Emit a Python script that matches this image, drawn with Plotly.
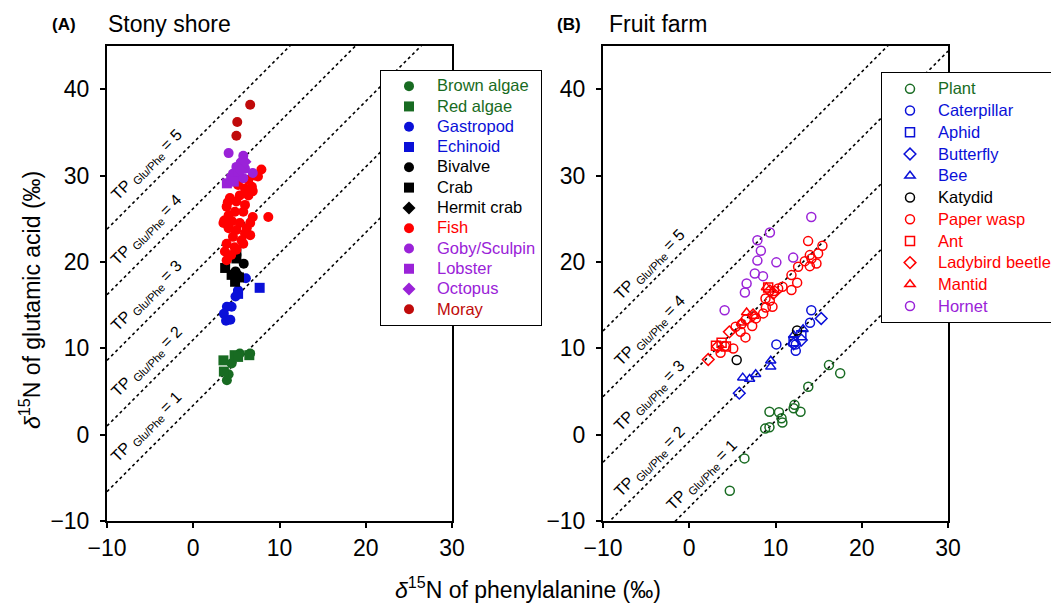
import plotly.graph_objects as go

# ---------------- data: panel A (Stony shore) ----------------
brown_algae_x = [3.9, 4.1, 4.45, 5.4, 6.6]
brown_algae_y = [6.3, 7.0, 8.25, 9.4, 9.4]
red_algae_x = [3.5, 3.55, 4.8, 5.2, 6.5]
red_algae_y = [8.6, 7.3, 9.2, 9.0, 9.2]
gastropod_x = [6.1, 5.2, 4.9, 4.45, 3.9, 3.55, 3.8, 4.3]
gastropod_y = [18.1, 16.7, 16.0, 14.8, 14.8, 14.0, 13.2, 13.3]
echinoid_x = [7.7, 5.2]
echinoid_y = [17.0, 16.3]
bivalve_x = [5.85, 4.9]
bivalve_y = [19.8, 18.9]
crab_x = [5.0, 5.0, 3.7, 4.45, 4.85, 5.3]
crab_y = [21.2, 20.4, 19.3, 18.5, 17.7, 18.2]
hermit_x = [5.1]
hermit_y = [18.6]
fish_x = [7.9, 7.15, 6.4, 6.8, 6.0, 6.9, 6.4, 5.4, 4.25, 3.87, 5.0, 6.0, 4.83, 5.8, 4.1,
          6.9, 8.7, 3.5, 4.5, 5.4, 6.6, 4.1, 5.0, 6.0, 4.6, 5.6, 6.6, 3.87, 4.8, 5.8,
          3.67, 4.4, 3.87, 5.0, 6.2, 4.0, 5.2, 3.6, 7.5]
fish_y = [30.7, 30.0, 29.5, 28.7, 28.5, 28.2, 27.7, 27.7, 27.4, 26.4, 27.0, 26.6, 25.8, 25.8, 25.4,
          25.2, 25.2, 24.5, 24.7, 24.5, 24.5, 23.9, 23.7, 23.3, 22.9, 22.5, 23.1, 22.1, 21.7, 22.1,
          21.2, 20.8, 20.2, 21.4, 23.9, 26.9, 28.9, 24.8, 29.9]
goby_x = [4.1, 5.8, 5.5, 5.0, 6.0, 6.9, 4.6, 5.3, 5.8]
goby_y = [32.6, 32.3, 31.5, 31.0, 30.8, 30.3, 30.2, 30.0, 29.7]
lobster_x = [3.9, 4.4, 5.2, 4.7]
lobster_y = [29.1, 29.6, 30.5, 29.3]
octopus_x = [5.5, 6.0]
octopus_y = [30.6, 31.6]
moray_x = [6.6, 5.1, 5.0]
moray_y = [38.2, 36.2, 34.6]

# ---------------- data: panel B (Fruit farm) ----------------
plant_x = [4.7, 6.4, 9.3, 10.4, 8.8, 9.3, 10.7, 10.8, 12.2, 12.1, 12.9, 13.8, 16.2, 17.5]
plant_y = [-6.5, -2.75, 2.65, 2.6, 0.7, 0.85, 1.9, 1.4, 3.45, 3.05, 2.65, 5.55, 8.05, 7.1]
caterpillar_x = [10.1, 12.35, 12.35, 14.0, 14.15]
caterpillar_y = [10.45, 10.45, 9.7, 12.95, 14.4]
aphid_x = [12.1, 13.0]
aphid_y = [10.8, 11.5]
butterfly_x = [5.8, 15.3, 13.0, 12.1]
butterfly_y = [4.8, 13.45, 10.95, 10.5]
bee_x = [6.2, 7.0, 7.7, 9.45, 9.45, 12.1, 13.2]
bee_y = [6.6, 6.45, 7.0, 8.55, 7.85, 11.5, 12.2]
katydid_x = [5.5, 12.5]
katydid_y = [8.65, 12.05]
wasp_x = [3.63, 4.13, 5.1, 5.37, 5.95, 6.06, 6.52, 6.56, 7.3, 7.72, 8.84, 9.34, 8.88, 9.65, 9.84,
          10.31, 10.81, 11.85, 12.51, 11.85, 12.62, 13.4, 13.78, 13.98, 14.17, 13.98, 14.75, 14.94, 15.44, 8.57]
wasp_y = [9.48, 10.25, 9.98, 12.49, 11.91, 12.8, 11.26, 13.34, 12.57, 13.46, 15.77, 15.5, 14.73, 14.8, 16.62,
          16.93, 17.12, 16.74, 17.6, 18.47, 19.44, 20.09, 22.41, 20.79, 20.4, 19.51, 19.82, 20.98, 21.87, 14.04]
ant_x = [3.1, 3.75, 4.25, 9.15]
ant_y = [10.3, 10.65, 10.2, 17.05]
ladybird_x = [2.2, 3.3, 4.65, 9.35, 7.4, 9.75]
ladybird_y = [8.7, 10.2, 11.9, 16.65, 13.85, 16.35]
mantid_x = [6.65, 8.95, 7.5, 6.05]
mantid_y = [14.15, 17.05, 13.75, 12.95]
hornet_x = [4.1, 6.45, 6.65, 7.6, 8.55, 7.9, 8.3, 7.9, 9.35, 10.1, 12.05, 14.15]
hornet_y = [14.4, 16.45, 17.5, 18.65, 18.35, 20.15, 21.3, 22.5, 23.4, 19.95, 20.5, 25.2]

# trophic position reference lines: y = x + beta + TDF*(TP-1)
tp_levels = [1, 2, 3, 4, 5]
beta_A = 3.4
beta_B = -8.4
tdf = 7.6
x_range = [-10, 30]
y_range = [-10, 45]
tick_vals = [-10, 0, 10, 20, 30, 40]

GREEN = "#186b22"
BLUE = "#0a10d8"
BLACK = "#000000"
RED = "#ff0000"
PURPLE = "#9a22d8"
DRED = "#c00a0a"

FONT = "Liberation Sans, Arial, sans-serif"

# page geometry (pixels)
W, H = 1051, 606
L, R, T, B = 70, 70, 46, 85
PW = W - L - R
PH = H - T - B


def px(xp):
    return (xp - L) / PW


def py(yp):
    return (H - B - yp) / PH


fig = go.Figure()


def tp_lines(beta, xa, ya):
    for tp in tp_levels:
        c = beta + tdf * (tp - 1)
        fig.add_trace(go.Scatter(x=x_range, y=[x_range[0] + c, x_range[1] + c], mode="lines",
                                 line=dict(color="black", dash="dot", width=1.6),
                                 showlegend=False, hoverinfo="skip", xaxis=xa, yaxis=ya))


tp_lines(beta_A, "x", "y")
tp_lines(beta_B, "x2", "y2")


def lab(text, color):
    return '<span style="color:%s;font-size:16.5px">%s</span>' % (color, text)


series_A = [
    ("Brown algae", brown_algae_x, brown_algae_y, "circle", GREEN),
    ("Red algae", red_algae_x, red_algae_y, "square", GREEN),
    ("Gastropod", gastropod_x, gastropod_y, "circle", BLUE),
    ("Echinoid", echinoid_x, echinoid_y, "square", BLUE),
    ("Bivalve", bivalve_x, bivalve_y, "circle", BLACK),
    ("Crab", crab_x, crab_y, "square", BLACK),
    ("Hermit crab", hermit_x, hermit_y, "diamond", BLACK),
    ("Fish", fish_x, fish_y, "circle", RED),
    ("Goby/Sculpin", goby_x, goby_y, "circle", PURPLE),
    ("Lobster", lobster_x, lobster_y, "square", PURPLE),
    ("Octopus", octopus_x, octopus_y, "diamond", PURPLE),
    ("Moray", moray_x, moray_y, "circle", DRED),
]
for name, xs, ys, sym, col in series_A:
    fig.add_trace(go.Scatter(x=xs, y=ys, mode="markers", name=lab(name, col),
                             marker=dict(symbol=sym, size=10, color=col, line=dict(width=0)),
                             xaxis="x", yaxis="y", legend="legend"))

series_B = [
    ("Plant", plant_x, plant_y, "circle-open", GREEN),
    ("Caterpillar", caterpillar_x, caterpillar_y, "circle-open", BLUE),
    ("Aphid", aphid_x, aphid_y, "square-open", BLUE),
    ("Butterfly", butterfly_x, butterfly_y, "diamond-open", BLUE),
    ("Bee", bee_x, bee_y, "triangle-up-open", BLUE),
    ("Katydid", katydid_x, katydid_y, "circle-open", BLACK),
    ("Paper wasp", wasp_x, wasp_y, "circle-open", RED),
    ("Ant", ant_x, ant_y, "square-open", RED),
    ("Ladybird beetle", ladybird_x, ladybird_y, "diamond-open", RED),
    ("Mantid", mantid_x, mantid_y, "triangle-up-open", RED),
    ("Hornet", hornet_x, hornet_y, "circle-open", PURPLE),
]
for name, xs, ys, sym, col in series_B:
    fig.add_trace(go.Scatter(x=xs, y=ys, mode="markers", name=lab(name, col),
                             marker=dict(symbol=sym, size=9, color=col, line=dict(width=1.5, color=col)),
                             xaxis="x2", yaxis="y2", legend="legend2"))

axis_common = dict(showline=True, linecolor="black", linewidth=2, mirror=True,
                   ticks="outside", ticklen=5, tickwidth=1.5, tickcolor="black",
                   showgrid=False, zeroline=False, automargin=False,
                   tickfont=dict(family=FONT, size=23, color="black"))

legend_common = dict(bordercolor="black", borderwidth=1, bgcolor="white",
                     tracegroupgap=0, xanchor="left", yanchor="top", itemwidth=46)

fig.update_layout(
    width=W, height=H, plot_bgcolor="white", paper_bgcolor="white",
    margin=dict(l=L, r=R, t=T, b=B, autoexpand=False),
    xaxis=dict(domain=[px(107), px(452)], range=x_range, tickvals=tick_vals[:5], **axis_common),
    yaxis=dict(domain=[0, 1], range=y_range, tickvals=tick_vals, ticklabelstandoff=6, **axis_common),
    xaxis2=dict(domain=[px(603), px(948)], range=x_range, tickvals=tick_vals[:5], anchor="y2", **axis_common),
    yaxis2=dict(domain=[0, 1], range=y_range, tickvals=tick_vals, anchor="x2", ticklabelstandoff=6,
                **axis_common),
    legend=dict(x=px(380), y=py(70), font=dict(family=FONT, size=13.3), **legend_common),
    legend2=dict(x=px(881), y=py(72), font=dict(family=FONT, size=14.4), **legend_common),
    showlegend=True,
)

annotations = []
# TP labels
for tp in tp_levels:
    c = beta_A + tdf * (tp - 1)
    xa = -5.4
    annotations.append(dict(x=xa, y=xa + c + 2.8, xref="x", yref="y", showarrow=False,
                            text="TP <sub>Glu/Phe</sub> = %d" % tp, textangle=-45,
                            font=dict(family=FONT, size=16, color="black")))
for tp in tp_levels:
    c = beta_B + tdf * (tp - 1)
    xb = 1.5 if tp == 1 else -4.6
    annotations.append(dict(x=xb, y=xb + c + 2.2, xref="x2", yref="y2", showarrow=False,
                            text="TP <sub>Glu/Phe</sub> = %d" % tp, textangle=-45,
                            font=dict(family=FONT, size=16, color="black")))

# panel titles
annotations += [
    dict(x=px(50), y=py(25), xref="paper", yref="paper", xanchor="left", yanchor="middle",
         text="<b>(A)</b>", showarrow=False, font=dict(family=FONT, size=17, color="black")),
    dict(x=px(106), y=py(24), xref="paper", yref="paper", xanchor="left", yanchor="middle",
         text="Stony shore", showarrow=False, font=dict(family=FONT, size=23, color="black")),
    dict(x=px(555), y=py(25), xref="paper", yref="paper", xanchor="left", yanchor="middle",
         text="<b>(B)</b>", showarrow=False, font=dict(family=FONT, size=17, color="black")),
    dict(x=px(607), y=py(24), xref="paper", yref="paper", xanchor="left", yanchor="middle",
         text="Fruit farm", showarrow=False, font=dict(family=FONT, size=23, color="black")),
]

# axis titles
annotations += [
    dict(x=px(528), y=py(588), xref="paper", yref="paper", showarrow=False,
         xanchor="center", yanchor="middle",
         text="<i>δ</i><sup>15</sup>N of phenylalanine (‰)",
         font=dict(family=FONT, size=23, color="black")),
    dict(x=px(30), y=py(300), xref="paper", yref="paper", showarrow=False, textangle=-90,
         xanchor="center", yanchor="middle",
         text="<i>δ</i><sup>15</sup>N of glutamic acid (‰)",
         font=dict(family=FONT, size=23, color="black")),
]
fig.update_layout(annotations=annotations)

fig.write_html("out.html")
